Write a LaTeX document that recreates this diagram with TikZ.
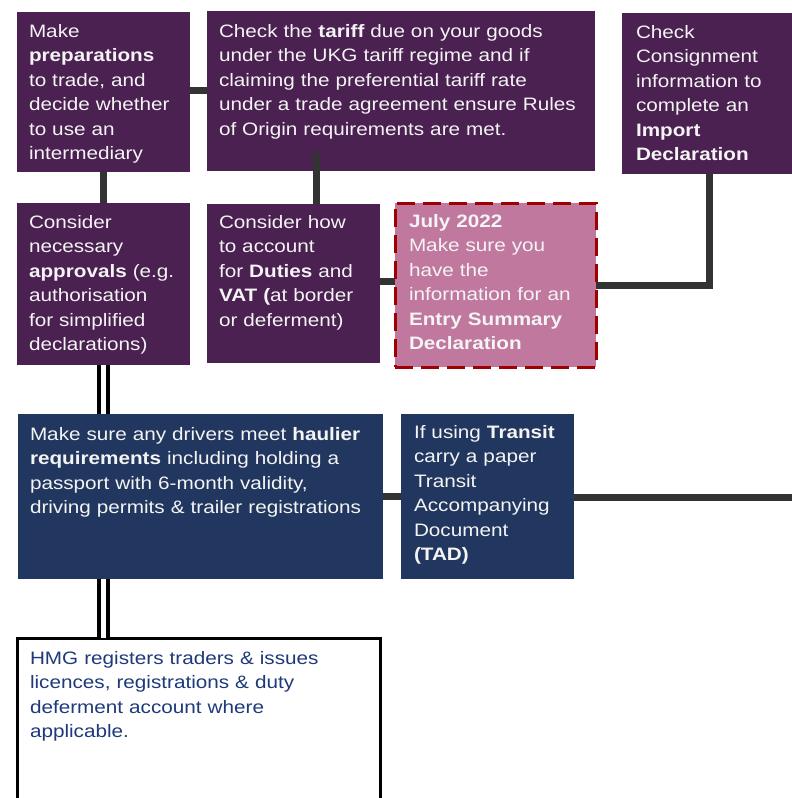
\documentclass[tikz,border=0pt]{standalone}
\usepackage{fontspec}
\setmainfont[FakeStretch=1.15]{Liberation Sans}
\usetikzlibrary{calc}
\definecolor{plum}{HTML}{4A2151}
\definecolor{navy}{HTML}{22375F}
\definecolor{rose}{HTML}{C0789E}
\definecolor{crimson}{HTML}{9E0000}
\definecolor{wire}{HTML}{333333}
\definecolor{paper}{HTML}{F4F4F4}
\definecolor{inkblue}{HTML}{1F3A7A}
\tikzset{
  panel/.style={anchor=north west, inner sep=0pt, outer sep=0pt},
  words/.style={anchor=north west, inner sep=0pt, outer sep=0pt,
    text width=400pt, text height=25pt, align=left,
    font=\fontsize{18pt}{24.5pt}\selectfont, text=paper},
  conn/.style={draw=wire, line width=7pt},
  twin/.style={draw=black, line width=4pt, double=white, double distance=5pt},
}
\begin{document}
\begin{tikzpicture}[x=1pt,y=-1pt]
\useasboundingbox (0,0) rectangle (792,798);

% coloured panels
\node[panel, fill=plum, minimum width=173pt, minimum height=160pt] (b1) at (17,12) {};
\node[panel, fill=plum, minimum width=388pt, minimum height=160pt] (b2) at (207,11) {};
\node[panel, fill=plum, minimum width=175pt, minimum height=161pt] (b3) at (622,13) {};
\node[panel, fill=plum, minimum width=173pt, minimum height=162pt] (b4) at (17,203) {};
\node[panel, fill=plum, minimum width=173pt, minimum height=159pt] (b5) at (207,204) {};
\node[panel, fill=rose, draw=crimson, line width=3pt, dash pattern=on 18pt off 8pt,
      minimum width=201pt, minimum height=164pt] (b6) at (395,203) {};
\node[panel, fill=navy, minimum width=365pt, minimum height=165pt] (b7) at (18,414) {};
\node[panel, fill=navy, minimum width=173pt, minimum height=165pt] (b8) at (401,414) {};
\node[panel, fill=white, draw=black, line width=3pt,
      minimum width=363pt, minimum height=180pt] (b9) at (17,638) {};

% panel texts
\node[words] (t1) at ($(b1.north west)+(12,0)$)
  {Make\\\textbf{preparations}\\to trade, and\\decide whether\\to use an\\intermediary};
\node[words, text height=26pt] (t2) at ($(b2.north west)+(12,0)$)
  {Check the \textbf{tariff} due on your goods\\under the UKG tariff regime and if\\claiming the preferential tariff rate\\under a trade agreement ensure Rules\\of Origin requirements are met.};
\node[words] (t3) at ($(b3.north west)+(14,0)$)
  {Check\\Consignment\\information to\\complete an\\\textbf{Import}\\\textbf{Declaration}};
\node[words] (t4) at ($(b4.north west)+(12,0)$)
  {Consider\\necessary\\\textbf{approvals} (e.g.\\authorisation\\for simplified\\declarations)};
\node[words, text height=24pt] (t5) at ($(b5.north west)+(12,0)$)
  {Consider how\\to account\\for \textbf{Duties} and\\\textbf{VAT (}at border\\or deferment)};
\node[words, text height=24pt] (t6) at ($(b6.north west)+(14,0)$)
  {\textbf{July 2022}\\Make sure you\\have the\\information for an\\\textbf{Entry Summary}\\\textbf{Declaration}};
\node[words, text height=26pt] (t7) at ($(b7.north west)+(12,0)$)
  {Make sure any drivers meet \textbf{haulier}\\\textbf{requirements} including holding a\\passport with 6-month validity,\\driving permits \& trailer registrations};
\node[words, text height=24pt] (t8) at ($(b8.north west)+(13,0)$)
  {If using \textbf{Transit}\\carry a paper\\Transit\\Accompanying\\Document\\\textbf{(TAD)}};
\node[words, text height=26pt, text=inkblue] (t9) at ($(b9.north west)+(13,0)$)
  {HMG registers traders \& issues\\licences, registrations \& duty\\deferment account where\\applicable.};

% connectors
\coordinate (c12) at ($(b1.east)+(0,-1.5)$);
\draw[conn] (c12) -- (c12 -| b2.west);
\draw[conn] (b1.south) -- (b4.north);
\coordinate (c25) at ($(b5.north)+(22.5,0)$);
\draw[conn] ($(c25 |- b2.south)+(0,-19)$) -- (c25);
\coordinate (c56) at ($(b5.east)+(0,-2.5)$);
\draw[conn] (c56) -- (c56 -| b6.west);
\draw[conn] (b3.south) |- (b6.east);
\draw[conn] (b7.east) -- (b8.west);
\coordinate (rim) at (800,497);
\draw[conn] (b8.east |- rim) -- (rim);
\draw[twin] (b4.south) -- (b4.south |- b7.north);
\draw[twin] (b4.south |- b7.south) -- (b4.south |- b9.north);
\end{tikzpicture}
\end{document}
